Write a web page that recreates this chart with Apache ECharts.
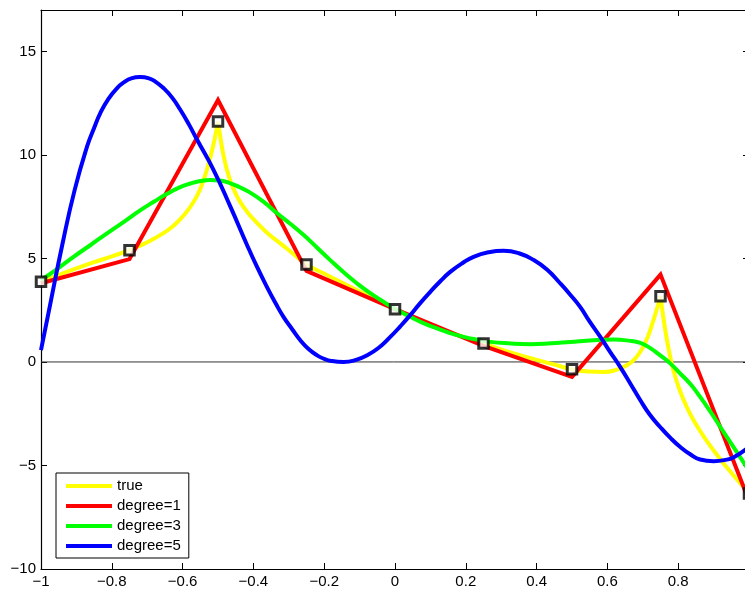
<!DOCTYPE html>
<html>
<head>
<meta charset="utf-8">
<script src="https://cdn.jsdelivr.net/npm/echarts@6/dist/echarts.min.js"></script>
<style>
html,body{margin:0;padding:0;background:#fff;overflow:hidden;}
#chart{width:745px;height:589px;}
</style>
</head>
<body>
<div id="chart"></div>
<script>
// ---- data ----
const knotsX = [-1, -0.75, -0.5, -0.25, 0, 0.25, 0.5, 0.75, 1];
const sampleY = [3.87, 5.40, 11.61, 4.71, 2.55, 0.89, -0.35, 3.18, -6.35];
const degree1Y = [3.80, 4.97, 12.65, 4.40, 2.55, 0.78, -0.72, 4.22, -6.70];

const trueSeg1 = [[-1,3.87],[-0.95,4.2],[-0.9,4.52],[-0.85,4.82],[-0.8,5.1],[-0.75,5.40],[-0.72,5.62],[-0.69,5.87],[-0.66,6.16],[-0.63,6.52],[-0.605,6.92],[-0.58,7.45],[-0.56,8.0],[-0.545,8.58],[-0.532,9.25],[-0.52,10.0],[-0.51,10.72],[-0.5,11.61]];
const trueSeg2 = [[-0.5,11.61],[-0.492,10.7],[-0.484,9.95],[-0.475,9.3],[-0.465,8.75],[-0.452,8.2],[-0.437,7.72],[-0.415,7.2],[-0.39,6.72],[-0.36,6.22],[-0.324,5.73],[-0.286,5.2],[-0.25,4.71],[-0.19,4.18],[-0.125,3.62],[-0.06,3.07],[0,2.55],[0.06,2.08],[0.125,1.62],[0.19,1.22],[0.25,0.89],[0.31,0.55],[0.375,0.22],[0.44,-0.08],[0.5,-0.35],[0.545,-0.46],[0.59,-0.48],[0.625,-0.38],[0.655,-0.16],[0.675,0.1],[0.693,0.5],[0.706,0.9],[0.716,1.3],[0.727,1.85],[0.737,2.4],[0.744,2.8],[0.75,3.18]];
const trueSeg3 = [[0.75,3.18],[0.756,2.4],[0.763,1.6],[0.771,0.8],[0.78,0.05],[0.79,-0.62],[0.802,-1.25],[0.817,-1.9],[0.835,-2.55],[0.857,-3.2],[0.882,-3.85],[0.91,-4.5],[0.94,-5.15],[0.97,-5.75],[1,-6.35]];

const degree3 = [[-1,3.95],[-0.95,4.55],[-0.908,5.08],[-0.86,5.65],[-0.8136,6.21],[-0.765,6.78],[-0.72,7.32],[-0.68,7.75],[-0.644,8.12],[-0.61,8.42],[-0.578,8.62],[-0.55,8.74],[-0.522,8.79],[-0.495,8.76],[-0.465,8.63],[-0.44,8.45],[-0.409,8.18],[-0.37,7.72],[-0.333,7.18],[-0.295,6.66],[-0.258,6.13],[-0.22,5.52],[-0.183,4.92],[-0.145,4.33],[-0.107,3.79],[-0.07,3.32],[-0.032,2.90],[0.005,2.52],[0.043,2.18],[0.08,1.88],[0.119,1.62],[0.155,1.40],[0.194,1.21],[0.23,1.08],[0.269,0.97],[0.32,0.9],[0.382,0.86],[0.44,0.9],[0.495,0.97],[0.561,1.05],[0.618,1.08],[0.66,1.03],[0.693,0.92],[0.72,0.68],[0.749,0.32],[0.778,-0.08],[0.806,-0.56],[0.835,-1.08],[0.862,-1.69],[0.89,-2.38],[0.919,-3.14],[0.947,-3.87],[0.975,-4.60],[1,-5.25]];

const degree5 = [[-1,0.57],[-0.975,2.7],[-0.94,5.65],[-0.905,8.3],[-0.87,10.40],[-0.85,11.3],[-0.8325,12.02],[-0.81,12.7],[-0.785,13.23],[-0.765,13.52],[-0.745,13.7],[-0.72,13.76],[-0.695,13.7],[-0.675,13.52],[-0.654,13.23],[-0.63,12.78],[-0.6065,12.18],[-0.583,11.5],[-0.559,10.73],[-0.5124,9.27],[-0.465,7.50],[-0.418,5.65],[-0.39,4.6],[-0.362,3.63],[-0.338,2.86],[-0.315,2.18],[-0.29,1.57],[-0.2675,1.05],[-0.245,0.64],[-0.22,0.32],[-0.2,0.15],[-0.18,0.05],[-0.145,0.0],[-0.11,0.1],[-0.079,0.32],[-0.045,0.7],[-0.0133,1.21],[0.015,1.72],[0.043,2.26],[0.07,2.82],[0.0997,3.39],[0.128,3.9],[0.156,4.35],[0.19,4.77],[0.222,5.08],[0.265,5.3],[0.307,5.37],[0.35,5.25],[0.392,4.92],[0.43,4.45],[0.467,3.79],[0.495,3.25],[0.523,2.66],[0.55,1.95],[0.58,1.21],[0.608,0.48],[0.636,-0.24],[0.665,-1.05],[0.693,-1.85],[0.72,-2.55],[0.749,-3.14],[0.778,-3.67],[0.806,-4.11],[0.834,-4.46],[0.862,-4.71],[0.9,-4.79],[0.93,-4.74],[0.957,-4.6],[1,-4.1]];

const zeroLine = [[-1,0],[1,0]];
const legendNames = ['true', 'degree=1', 'degree=3', 'degree=5'];

// ---- chart ----
const fmt = v => String(+(+v).toFixed(2)).replace('-', '\u2212');
const axisCommon = {
  type: 'value',
  splitLine: {show: false},
  axisLine: {show: true, onZero: false, lineStyle: {color: '#000', width: 1.2}},
  axisTick: {show: true, inside: true, length: 6, lineStyle: {color: '#000', width: 1}}
};
const labelStyle = {color: '#000', fontFamily: 'Liberation Sans, Arial, sans-serif', fontSize: 15};

const chart = echarts.init(document.getElementById('chart'), null, {renderer: 'canvas'});
const lineS = (name, data, color, smooth) => ({
  name, type: 'line', data, smooth, showSymbol: false, symbol: 'none',
  lineStyle: {color, width: 4, join: 'miter', miterLimit: 20},
  itemStyle: {color}, animation: false, silent: true
});

chart.setOption({
  animation: false,
  backgroundColor: '#fff',
  grid: {left: 41, top: 10, width: 708, height: 559, containLabel: false, outerBoundsMode: 'none'},
  xAxis: [
    Object.assign({}, axisCommon, {min: -1, max: 1, interval: 0.2, position: 'bottom',
      axisLabel: Object.assign({formatter: fmt, margin: 5, showMaxLabel: false}, labelStyle)}),
    Object.assign({}, axisCommon, {min: -1, max: 1, interval: 0.2, position: 'top',
      axisLabel: {show: false}})
  ],
  yAxis: [
    Object.assign({}, axisCommon, {min: -10, max: 17, interval: 5, position: 'left',
      axisLabel: Object.assign({formatter: fmt, margin: 5, showMaxLabel: false}, labelStyle)}),
    Object.assign({}, axisCommon, {min: -10, max: 17, interval: 5, position: 'right',
      axisLabel: {show: false}})
  ],
  legend: {
    data: legendNames,
    orient: 'vertical',
    left: 56, top: 473,
    icon: 'rect',
    itemWidth: 46, itemHeight: 4,
    itemGap: 4,
    padding: [5, 8, 4, 10],
    borderColor: '#000', borderWidth: 1,
    backgroundColor: '#fff',
    selectedMode: false,
    textStyle: {color: '#000', fontFamily: 'Liberation Sans, Arial, sans-serif', fontSize: 15, lineHeight: 16}
  },
  series: [
    {name: 'zero', type: 'line', data: zeroLine, symbol: 'none', silent: true,
      lineStyle: {color: '#333', width: 1}, itemStyle: {color: '#333'}},
    lineS('true', trueSeg1, '#ffff00', 0.5),
    lineS('true', trueSeg2, '#ffff00', 0.5),
    lineS('true', trueSeg3, '#ffff00', 0.5),
    lineS('degree=1', knotsX.map((x, i) => [x, degree1Y[i]]), '#ff0000', false),
    lineS('degree=3', degree3, '#00ff00', 0.5),
    lineS('degree=5', degree5, '#0000ff', 0.5),
    {name: 'samples', type: 'scatter', data: knotsX.map((x, i) => [x, sampleY[i]]),
      symbol: 'rect', symbolSize: 9.5, silent: true,
      itemStyle: {color: '#fff', borderColor: '#000', borderWidth: 3}, z: 5}
  ]
});
</script>
</body>
</html>
